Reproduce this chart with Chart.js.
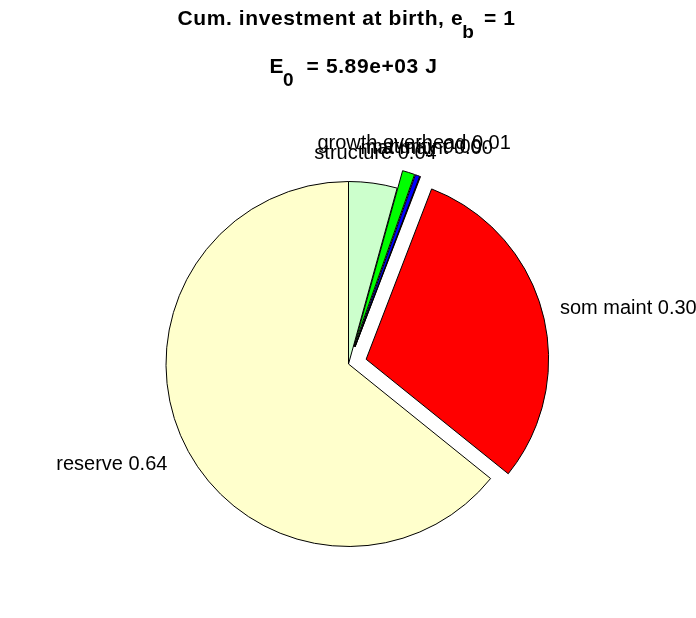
<!DOCTYPE html>
<html>
<head>
<meta charset="utf-8">
<script src="https://cdn.jsdelivr.net/npm/chart.js@4/dist/chart.umd.min.js"></script>
<style>
  html, body { margin: 0; padding: 0; background: #ffffff; }
  #wrap { width: 696px; height: 618px; }
</style>
</head>
<body>
<div id="wrap"><canvas id="pie" width="696" height="618"></canvas></div>
<script>
// Slices, listed clockwise from twelve o'clock
const categories = ['structure', 'growth overhead', 'maturity', 'mat maint', 'som maint', 'reserve'];
const fractions = [0.043, 0.011, 0.004, 0.0005, 0.300, 0.643];
// 1 = slice pulled out from the centre
const explodeFlags = [0, 1, 1, 1, 1, 0];
const sliceColors = ['#ccffcc', '#00ff00', '#0000ff', '#ff00ff', '#ff0000', '#ffffcc'];

// Title lines: [text, isSubscript]
const titleLine1 = [['Cum. investment at birth, e', false], ['b', true], [' = 1', false]];
const titleLine2 = [['E', false], ['0', true], [' = 5.89e+03 J', false]];

const EXPLODE_RATIO = 0.1;
const FONT_FAMILY = '"Liberation Sans", Arial, Helvetica, sans-serif';

// Arc that is shifted out along its bisector by a fraction of the radius,
// keeping its own radius unchanged.
class ExplodedArc extends Chart.ArcElement {
  static id = 'explodedArc';
  static defaults = { explode: 0 };
  draw(ctx) {
    const o = this.options;
    const { x, y, startAngle, endAngle, outerRadius } = this;
    if (!(endAngle > startAngle) || outerRadius <= 0) return;
    const mid = (startAngle + endAngle) / 2;
    const d = (o.explode || 0) * outerRadius;
    ctx.save();
    ctx.translate(Math.cos(mid) * d, Math.sin(mid) * d);
    ctx.beginPath();
    ctx.moveTo(x, y);
    ctx.arc(x, y, outerRadius, startAngle, endAngle);
    ctx.closePath();
    ctx.fillStyle = o.backgroundColor;
    ctx.fill();
    if (o.borderWidth) {
      ctx.lineWidth = o.borderWidth;
      ctx.strokeStyle = o.borderColor;
      ctx.lineJoin = 'miter';
      ctx.stroke();
    }
    ctx.restore();
  }
}

class ExplodedPieController extends Chart.PieController {
  static id = 'explodedPie';
  static defaults = { dataElementType: 'explodedArc' };
}

Chart.register(ExplodedArc, ExplodedPieController);

// One title line made of normal and subscript runs, centred on cx
function drawRichLine(ctx, parts, cx, baseY, size, subDrop, subGap) {
  const mainFont = `bold ${size}px ${FONT_FAMILY}`;
  const subFont = `bold ${Math.round(size * 0.92)}px ${FONT_FAMILY}`;
  ctx.letterSpacing = '0.6px';
  let total = 0;
  const widths = parts.map(([t, sub]) => {
    ctx.font = sub ? subFont : mainFont;
    const w = ctx.measureText(t).width + (sub ? subGap : 0);
    total += w;
    return w;
  });
  let xPos = cx - total / 2;
  parts.forEach(([t, sub], i) => {
    ctx.font = sub ? subFont : mainFont;
    ctx.fillText(t, xPos - (sub ? 1 : 0), sub ? baseY + subDrop : baseY);
    xPos += widths[i];
  });
  ctx.letterSpacing = '0px';
}

// Title with subscripts, above the pie
const titlePlugin = {
  id: 'richTitle',
  afterDraw(chart) {
    const ctx = chart.ctx;
    const meta = chart.getDatasetMeta(0);
    const cx = meta.data.length ? meta.data[0].x : chart.width / 2;
    ctx.save();
    ctx.fillStyle = '#000000';
    ctx.textAlign = 'left';
    ctx.textBaseline = 'alphabetic';
    drawRichLine(ctx, titleLine1, cx - 2, 25, 21, 13, 2);
    drawRichLine(ctx, titleLine2, cx + 5, 73, 21, 13, 5);
    ctx.restore();
  }
};

// Category labels with their share, placed outside each slice
const sliceLabelPlugin = {
  id: 'sliceLabels',
  afterDatasetsDraw(chart) {
    const ctx = chart.ctx;
    const meta = chart.getDatasetMeta(0);
    const data = chart.data.datasets[0].data;
    const total = data.reduce((a, b) => a + b, 0);
    ctx.save();
    ctx.fillStyle = '#000000';
    ctx.font = `20px ${FONT_FAMILY}`;
    ctx.textBaseline = 'middle';
    meta.data.forEach((arc, i) => {
      const r = arc.outerRadius;
      const mid = (arc.startAngle + arc.endAngle) / 2;
      const c = Math.cos(mid), s = Math.sin(mid);
      const d = (arc.options.explode || 0) * r;
      const ox = arc.x + c * d, oy = arc.y + s * d;
      const lx = ox + c * r * 1.1;
      const ly = oy + s * r * 1.2;
      ctx.textAlign = c > 0.5 ? 'left' : (c < -0.5 ? 'right' : 'center');
      const text = `${chart.data.labels[i]} ${(data[i] / total).toFixed(2)}`;
      ctx.fillText(text, lx, ly + 6);
    });
    ctx.restore();
  }
};

new Chart(document.getElementById('pie'), {
  type: 'explodedPie',
  data: {
    labels: categories,
    datasets: [{
      data: fractions,
      backgroundColor: sliceColors,
      borderColor: '#000000',
      borderWidth: 1,
      explode: explodeFlags.map(f => f * EXPLODE_RATIO)
    }]
  },
  options: {
    responsive: false,
    animation: false,
    events: [],
    devicePixelRatio: 1,
    layout: { padding: { left: 165, right: 164, top: 181, bottom: 71 } },
    plugins: {
      legend: { display: false },
      title: { display: false },
      tooltip: { enabled: false }
    }
  },
  plugins: [sliceLabelPlugin, titlePlugin]
});
</script>
</body>
</html>
